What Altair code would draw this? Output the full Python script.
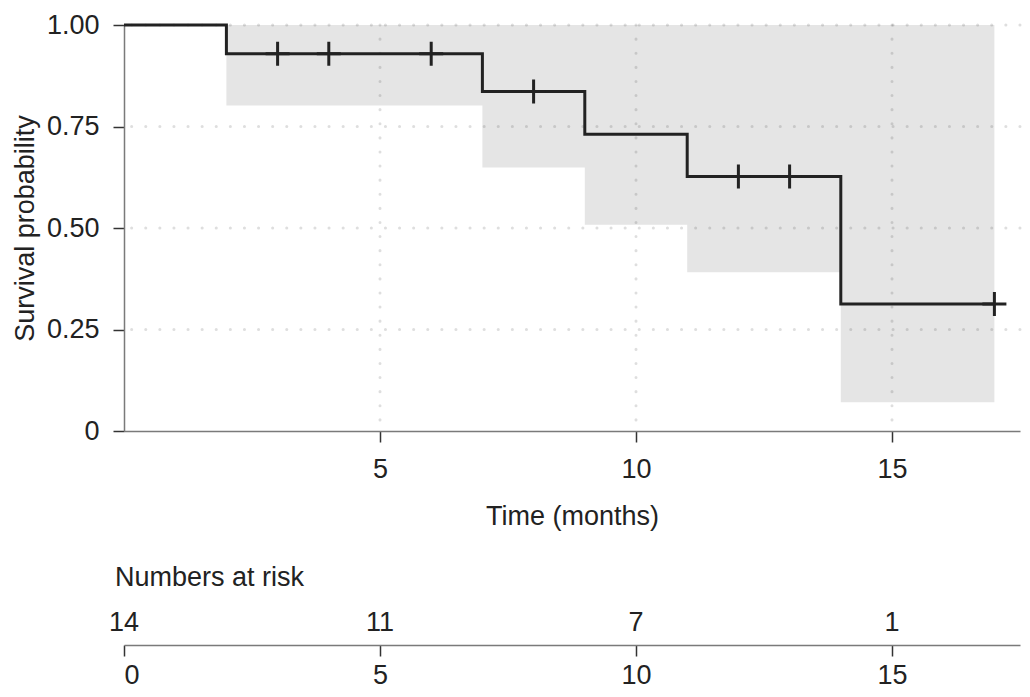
import altair as alt
import pandas as pd

# ---- data ----
step_times = [0, 2, 7, 9, 11, 14, 17]
step_surv = [1.0, 0.929, 0.836, 0.731, 0.627, 0.313, 0.313]

ci_times = [2, 7, 9, 11, 14, 17]
ci_lower = [0.802, 0.649, 0.508, 0.391, 0.071, 0.071]
ci_upper = [1.0, 1.0, 1.0, 1.0, 1.0, 1.0]

censor_times = [3, 4, 6, 8, 12, 13, 17]
censor_surv = [0.929, 0.929, 0.929, 0.836, 0.627, 0.627, 0.313]

risk_times = [0, 5, 10, 15]
risk_counts = [14, 11, 7, 1]

x_ticks = [5, 10, 15]
y_ticks = [0, 0.25, 0.5, 0.75, 1.0]
grid_y = [0.25, 0.5, 0.75, 1.0]
grid_x = [5, 10, 15]

FONT = "Liberation Sans"
FS = 27
W = 896
H = 406

step_df = pd.DataFrame({"time": step_times, "surv": step_surv})
ci_df = pd.DataFrame({"time": ci_times, "lower": ci_lower, "upper": ci_upper})
cens_df = pd.DataFrame({"time": censor_times, "surv": censor_surv})
risk_df = pd.DataFrame({"time": risk_times, "n": risk_counts})
gy_df = pd.DataFrame({"v": grid_y})
gx_df = pd.DataFrame({"v": grid_x})

xscale = alt.Scale(domain=[0, 17.5], nice=False, zero=False)
yscale = alt.Scale(domain=[0, 1], nice=False)

xaxis = alt.Axis(values=x_ticks, title="Time (months)", grid=False,
                 labelPadding=14, titlePadding=21)
yaxis = alt.Axis(values=y_ticks, title="Survival probability", grid=False,
                 labelExpr="datum.value == 0 ? '0' : format(datum.value, '.2f')",
                 labelPadding=14, titlePadding=7)

area = alt.Chart(ci_df).mark_area(interpolate="step-after", color="#e5e5e5", opacity=1).encode(
    x=alt.X("time:Q", scale=xscale, axis=xaxis),
    y=alt.Y("lower:Q", scale=yscale, axis=yaxis),
    y2="upper:Q",
)

grid_h = alt.Chart(gy_df).mark_rule(color="#000000", opacity=0.13, strokeWidth=3,
                                    strokeDash=[0.1, 14], strokeCap="round").encode(
    y=alt.Y("v:Q", scale=yscale)
)
grid_v = alt.Chart(gx_df).mark_rule(color="#000000", opacity=0.13, strokeWidth=3,
                                    strokeDash=[0.1, 14], strokeCap="round").encode(
    x=alt.X("v:Q", scale=xscale)
)

line = alt.Chart(step_df).mark_line(interpolate="step-after", color="#222222", strokeWidth=3).encode(
    x=alt.X("time:Q", scale=xscale),
    y=alt.Y("surv:Q", scale=yscale),
)

cens = alt.Chart(cens_df).mark_point(shape="M0,-1V1M-1,0H1", size=576, filled=False,
                                     strokeWidth=3, color="#222222", opacity=1).encode(
    x=alt.X("time:Q", scale=xscale),
    y=alt.Y("surv:Q", scale=yscale),
)

top = alt.layer(area, grid_h, grid_v, line, cens).properties(width=W, height=H)

bottom = alt.Chart(risk_df).mark_text(font=FONT, fontSize=FS, color="#222222", baseline="middle").encode(
    x=alt.X("time:Q", scale=xscale,
            axis=alt.Axis(values=risk_times, title=None, grid=False, labelPadding=6)),
    y=alt.value(20),
    text="n:Q",
).properties(
    width=W, height=42,
    title=alt.TitleParams("Numbers at risk", anchor="start", dx=6, fontSize=FS,
                          fontWeight="normal", font=FONT, color="#222222", offset=11),
)

chart = alt.vconcat(top, bottom, spacing=35).properties(
    padding={"left": 3, "top": 3, "right": 0, "bottom": 0}
).configure_view(stroke=None).configure_axis(
    domainColor="#7a7a7a", domainWidth=1.5, tickColor="#333333", tickWidth=1.5, tickSize=11,
    labelFont=FONT, labelFontSize=FS, labelColor="#222222",
    titleFont=FONT, titleFontSize=FS, titleFontWeight="normal", titleColor="#222222",
)

chart.save("out.html", embed_options={"renderer": "svg", "actions": False})
